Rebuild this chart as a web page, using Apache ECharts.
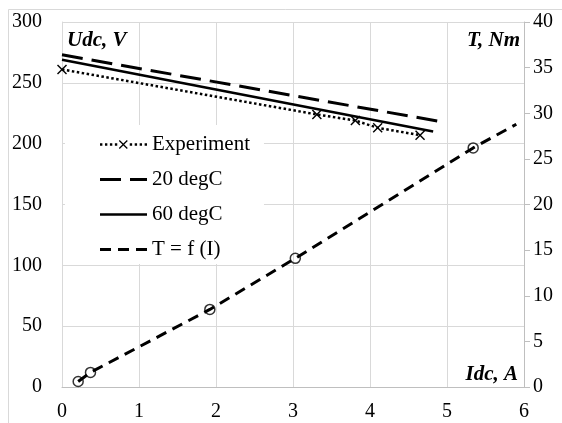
<!DOCTYPE html>
<html>
<head>
<meta charset="utf-8">
<script src="https://cdn.jsdelivr.net/npm/echarts@6/dist/echarts.min.js"></script>
<style>
html,body{margin:0;padding:0;background:#fff;}
#chart{width:562px;height:423px;}
</style>
</head>
<body>
<div id="chart"></div>
<script>
// ---- data ----
const currentExp = [0, 3.31, 3.81, 4.10, 4.65];
const voltageExp = [261, 224, 219, 213, 207];
const current20 = [0, 4.93];
const voltage20 = [273, 218];
const current60 = [0, 4.82];
const voltage60 = [269, 210];
const currentT = [0.21, 0.37, 1.92, 3.03, 5.34];
const torqueT = [0.6, 1.6, 8.5, 14.1, 26.2];
const currentTLine = [0.21, 0.37, 1.92, 3.03, 5.34, 5.9];
const torqueTLine = [0.6, 1.6, 8.5, 14.1, 26.2, 28.8];
const xTicks = [0, 1, 2, 3, 4, 5, 6];
const seriesNames = ['Experiment', '20 degC', '60 degC', 'T = f (I)'];

const pairs = (xs, ys) => xs.map((x, i) => [x, ys[i]]);
const FONT = 'Liberation Serif';
const crossPath = 'path://M0,1 L1,0 L5,4 L9,0 L10,1 L6,5 L10,9 L9,10 L5,6 L1,10 L0,9 L4,5 Z';

// legend icon shapes (47 x 12 box), drawn as filled paths
function dashIcon(segs, h) {
  const y0 = 6 - h / 2, y1 = 6 + h / 2;
  let p = 'path://M0,0 L0.01,0 L0.01,0.01 Z M47,12 L46.99,12 L46.99,11.99 Z ';
  segs.forEach(s => { p += `M${s[0]},${y0} L${s[1]},${y0} L${s[1]},${y1} L${s[0]},${y1} Z `; });
  return p;
}
function expIcon() {
  let p = 'path://M0,0 L0.01,0 L0.01,0.01 Z M47,12 L46.99,12 L46.99,11.99 Z ';
  for (let x = 0; x < 47; x += 5) {
    if (x > 17 && x < 28) continue;
    p += `M${x},4.8 L${x + 2.4},4.8 L${x + 2.4},7.2 L${x},7.2 Z `;
  }
  // cross in the middle
  const c = 23.5, r = 4.5, w = 0.9;
  p += `M${c - r},${6 - r + w} L${c - r + w},${6 - r} L${c},${6 - w} L${c + r - w},${6 - r} L${c + r},${6 - r + w} L${c + w},6 L${c + r},${6 + r - w} L${c + r - w},${6 + r} L${c},${6 + w} L${c - r + w},${6 + r} L${c - r},${6 + r - w} L${c - w},6 Z`;
  return p;
}

const chart = echarts.init(document.getElementById('chart'), null, {renderer: 'canvas'});
chart.setOption({
  animation: false,
  backgroundColor: '#fff',
  grid: {left: 62, right: 38, top: 22, bottom: 36, containLabel: false},
  xAxis: {
    type: 'value', min: 0, max: 6, interval: 1,
    axisLine: {show: true, lineStyle: {color: '#bfbfbf', width: 1}},
    axisTick: {show: false},
    axisLabel: {color: '#000', fontFamily: FONT, fontSize: 20, margin: 15,
      formatter: v => xTicks.includes(v) ? String(v) : ''},
    splitLine: {show: true, lineStyle: {color: '#d9d9d9', width: 1}}
  },
  yAxis: [{
    type: 'value', min: 0, max: 300, interval: 50, position: 'left',
    axisLine: {show: true, lineStyle: {color: '#d9d9d9', width: 1}},
    axisTick: {show: false},
    axisLabel: {color: '#000', fontFamily: FONT, fontSize: 20, margin: 20},
    splitLine: {show: true, lineStyle: {color: '#d9d9d9', width: 1}}
  }, {
    type: 'value', min: 0, max: 40, interval: 5, position: 'right',
    axisLine: {show: true, lineStyle: {color: '#bfbfbf', width: 1}},
    axisTick: {show: true, inside: false, length: 6, lineStyle: {color: '#bfbfbf'}},
    axisLabel: {color: '#000', fontFamily: FONT, fontSize: 20, margin: 9},
    splitLine: {show: false}
  }],
  legend: {
    orient: 'vertical', left: 65, top: 125,
    padding: [9, 14, 4, 35],
    backgroundColor: '#fff',
    itemWidth: 47, itemHeight: 12, itemGap: 14,
    symbolKeepAspect: false,
    textStyle: {color: '#000', fontFamily: FONT, fontSize: 21, lineHeight: 21},
    itemStyle: {color: '#000', borderWidth: 0},
    data: [
      {name: seriesNames[0], icon: expIcon()},
      {name: seriesNames[1], icon: dashIcon([[0, 21], [30, 47]], 3)},
      {name: seriesNames[2], icon: dashIcon([[0, 47]], 2.7)},
      {name: seriesNames[3], icon: dashIcon([[0, 11], [18, 29], [36, 47]], 3)}
    ]
  },
  series: [{
    name: seriesNames[0], type: 'line', yAxisIndex: 0,
    data: pairs(currentExp, voltageExp),
    symbol: crossPath, symbolSize: 10,
    itemStyle: {color: '#000'},
    lineStyle: {color: '#000', width: 2.5, type: [2.5, 2.5]},
    z: 3
  }, {
    name: seriesNames[1], type: 'line', yAxisIndex: 0,
    data: pairs(current20, voltage20),
    symbol: 'none', itemStyle: {color: '#000'},
    lineStyle: {color: '#000', width: 3, type: [21, 9]}
  }, {
    name: seriesNames[2], type: 'line', yAxisIndex: 0,
    data: pairs(current60, voltage60),
    symbol: 'none', itemStyle: {color: '#000'},
    lineStyle: {color: '#000', width: 2.7, type: 'solid'}
  }, {
    name: seriesNames[3], type: 'line', yAxisIndex: 1,
    data: pairs(currentTLine, torqueTLine),
    symbol: 'none', itemStyle: {color: '#000'},
    lineStyle: {color: '#000', width: 3, type: [11, 7]}
  }, {
    name: 'T points', type: 'scatter', yAxisIndex: 1,
    data: pairs(currentT, torqueT),
    symbol: 'circle', symbolSize: 10,
    itemStyle: {color: 'rgba(0,0,0,0)', borderColor: '#000', borderWidth: 1.5},
    z: 4
  }],
  graphic: [{
    type: 'rect', silent: true, z: -1,
    shape: {x: 8.5, y: 9.5, width: 700, height: 600},
    style: {fill: 'none', stroke: '#d9d9d9', lineWidth: 1}
  }, {
    type: 'text', left: 67, top: 30, z: 10,
    style: {text: 'Udc, V', fontFamily: FONT, fontSize: 21, fontWeight: 'bold', fontStyle: 'italic', fill: '#000'}
  }, {
    type: 'text', right: 42, top: 30, z: 10,
    style: {text: 'T, Nm', fontFamily: FONT, fontSize: 21, fontWeight: 'bold', fontStyle: 'italic', fill: '#000'}
  }, {
    type: 'text', right: 44, top: 364, z: 10,
    style: {text: 'Idc, A', fontFamily: FONT, fontSize: 21, fontWeight: 'bold', fontStyle: 'italic', fill: '#000'}
  }]
});
</script>
</body>
</html>
